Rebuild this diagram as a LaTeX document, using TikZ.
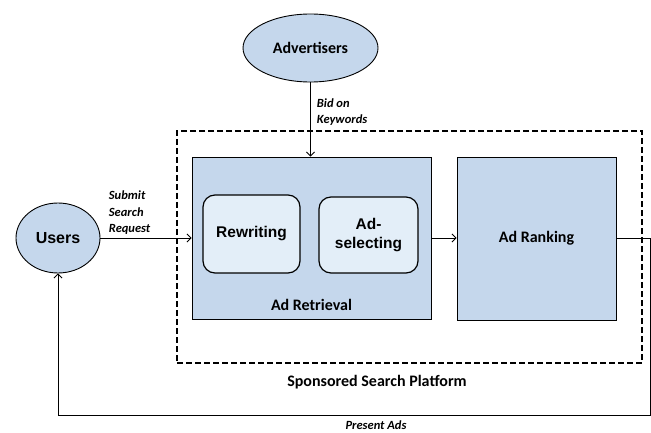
\documentclass[tikz,border=0pt]{standalone}
\usepackage{fontspec}
\setmainfont{Carlito}
\newfontfamily\arialfont{Liberation Sans}
\usetikzlibrary{
arrows.meta,
calc,
positioning,
shadows,
shapes.geometric
}
\tikzset{>={Straight Barb[length=4pt,width=8pt]}}
\definecolor{boxblue}{RGB}{197,215,236}
\definecolor{innerblue}{RGB}{227,238,248}

\begin{document}
\begin{tikzpicture}[x=1pt, y=-1pt, line width=0.9pt, font=\fontsize{16}{19}\selectfont\bfseries,
		actor/.style={draw, ellipse, fill=boxblue, inner sep=0pt},
		stage/.style={draw, fill=boxblue, inner sep=0pt, drop shadow={opacity=0.3, shadow xshift=1pt, shadow yshift=-1pt}},
		substage/.style={draw, fill=innerblue, rounded corners=12pt, line width=1.2pt, inner sep=0pt, align=center, font=\arialfont\fontsize{15.5}{19}\selectfont\bfseries},
		flowlabel/.style={font=\fontsize{12.5}{16.5}\selectfont\bfseries\itshape, align=left, inner sep=0pt}]
		\useasboundingbox (0,0) rectangle (651,433);
		
		\node[draw, line width=1.1pt, dash pattern=on 6pt off 3pt, minimum width=465pt, minimum height=232pt] (platform) at (409.5,247) {};
		\node (platformlabel) at (377,382) {Sponsored Search Platform};
		
		\node[actor, minimum width=84pt, minimum height=70pt, font=\arialfont\fontsize{16}{19}\selectfont\bfseries] (users) at (58,238) {Users};
		\node[actor, minimum width=135pt, minimum height=68pt] (advertisers) at (310.5,48) {Advertisers};
		
		\node[stage, minimum width=239pt, minimum height=162pt] (retrieval) at (311.5,238) {};
		\node[stage, minimum width=159pt, minimum height=163pt] (ranking) at (536.5,238.5) {Ad Ranking};
		\node[anchor=base] at ([yshift=9pt]retrieval.south) {Ad Retrieval};
		
		\node[substage, minimum width=97pt, minimum height=78pt] (rewriting) at (251.5,234) {Rewriting};
		\node[substage, minimum width=99pt, minimum height=76pt] (selecting) at (368.5,235) {Ad-\\selecting};
		
		\draw[->] (users.east) -- node[flowlabel, pos=0, anchor=south west, xshift=8pt, yshift=3pt] {Submit\\Search\\Request} (retrieval.west |- users.east);
		\draw[->] (advertisers.south) -- node[flowlabel, pos=0.4, anchor=west, xshift=6pt] {Bid on\\Keywords} (advertisers.south |- retrieval.north);
		\draw[->] (retrieval.east) -- (retrieval.east -| ranking.west);
		
		\coordinate (feedback) at (650,415);
		\draw[->] (ranking.east) -| (feedback) -| (users.south);
		\node[flowlabel] (presentads) at (376,425.5) {Present Ads};
	\end{tikzpicture}
\end{document}
